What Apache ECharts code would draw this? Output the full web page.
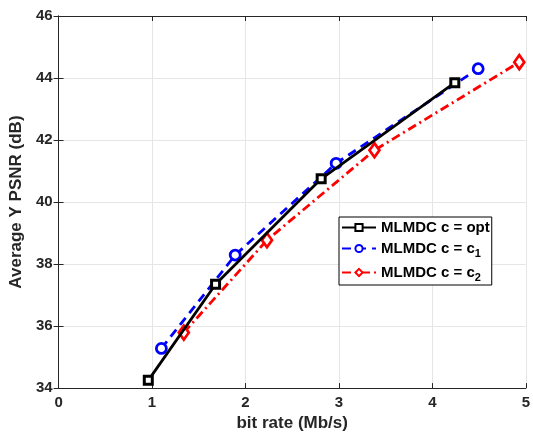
<!DOCTYPE html>
<html><head><meta charset="utf-8">
<script src="https://cdn.jsdelivr.net/npm/echarts@6/dist/echarts.min.js"></script>
<style>html,body{margin:0;padding:0;background:#fff}#c{width:533px;height:437px}</style>
</head><body><div id="c"></div>
<script>
const xTicks = [0, 1, 2, 3, 4, 5];
const yTicks = [34, 36, 38, 40, 42, 44, 46];
const seriesNames = ['MLMDC c = opt', 'MLMDC c = c1', 'MLMDC c = c2'];
const optRate = [0.96, 1.68, 2.81, 4.24];
const optPsnr = [34.25, 37.35, 40.75, 43.85];
const c1Rate = [1.10, 1.89, 2.97, 4.49];
const c1Psnr = [35.28, 38.29, 41.25, 44.30];
const c2Rate = [1.34, 2.23, 3.38, 4.93];
const c2Psnr = [35.79, 38.77, 41.67, 44.51];

const font = 'Liberation Sans, Arial, Helvetica, sans-serif';
const pair = (xs, ys) => xs.map((x, i) => [x, ys[i]]);
const chart = echarts.init(document.getElementById('c'));
const baseX = {type: 'value', min: 0, max: 5, interval: 1};
const baseY = {type: 'value', min: 34, max: 46, interval: 2};
chart.setOption({
  animation: false,
  backgroundColor: '#fff',
  grid: {left: 56, right: 2, top: 16, bottom: 45, containLabel: false},
  xAxis: [
    Object.assign({}, baseX, {
      position: 'bottom',
      name: 'bit rate (Mb/s)', nameLocation: 'middle', nameGap: 26,
      nameTextStyle: {fontFamily: font, fontWeight: 'bold', fontSize: 17, color: '#262626'},
      axisLine: {show: true, lineStyle: {color: '#262626', width: 1}},
      axisTick: {show: true, inside: true, length: 5, lineStyle: {color: '#262626'}},
      axisLabel: {fontFamily: font, fontWeight: 'bold', fontSize: 15, color: '#262626', margin: 7,
        formatter: v => xTicks.includes(v) ? String(v) : ''},
      splitLine: {show: true, lineStyle: {color: '#e6e6e6', width: 1}}
    }),
    Object.assign({}, baseX, {
      position: 'top',
      axisLine: {show: true, lineStyle: {color: '#262626', width: 1}},
      axisTick: {show: true, inside: true, length: 5, lineStyle: {color: '#262626'}},
      axisLabel: {show: false}, splitLine: {show: false}
    })
  ],
  yAxis: [
    Object.assign({}, baseY, {
      position: 'left',
      name: 'Average Y PSNR (dB)', nameLocation: 'middle', nameGap: 31,
      nameTextStyle: {fontFamily: font, fontWeight: 'bold', fontSize: 17, color: '#262626'},
      axisLine: {show: true, lineStyle: {color: '#262626', width: 1}},
      axisTick: {show: true, inside: true, length: 5, lineStyle: {color: '#262626'}},
      axisLabel: {fontFamily: font, fontWeight: 'bold', fontSize: 15, color: '#262626', margin: 6,
        formatter: v => yTicks.includes(v) ? String(v) : ''},
      splitLine: {show: true, lineStyle: {color: '#e6e6e6', width: 1}}
    }),
    Object.assign({}, baseY, {
      position: 'right',
      axisLine: {show: true, lineStyle: {color: '#262626', width: 1}},
      axisTick: {show: true, inside: true, length: 5, lineStyle: {color: '#262626'}},
      axisLabel: {show: false}, splitLine: {show: false}
    })
  ],
  legend: {
    orient: 'vertical', left: 339, top: 217,
    backgroundColor: '#fff', borderColor: '#000', borderWidth: 1,
    padding: [3, 2, 2, 2], itemGap: 6, itemWidth: 34, itemHeight: 9,
    textStyle: {fontFamily: font, fontWeight: 'bold', fontSize: 15, color: '#000',
      rich: {
        t: {fontFamily: font, fontWeight: 'bold', fontSize: 15, color: '#000'},
        s: {fontFamily: font, fontWeight: 'bold', fontSize: 11, color: '#000', padding: [10, 0, 0, 0]}
      }},
    formatter: n => {
      if (n === seriesNames[1]) return '{t|MLMDC c = c}{s|1}';
      if (n === seriesNames[2]) return '{t|MLMDC c = c}{s|2}';
      return '{t|' + n + '}';
    },
    data: seriesNames
  },
  series: [
    {name: seriesNames[0], type: 'line', data: pair(optRate, optPsnr),
      symbol: 'rect', symbolSize: 8,
      lineStyle: {color: '#000', width: 2.8, type: 'solid'},
      itemStyle: {color: '#fff', borderColor: '#000', borderWidth: 3}, z: 3},
    {name: seriesNames[1], type: 'line', data: pair(c1Rate, c1Psnr),
      symbol: 'circle', symbolSize: 10,
      lineStyle: {color: '#0000ff', width: 2.8, type: [9, 6]},
      itemStyle: {color: '#fff', borderColor: '#0000ff', borderWidth: 2.8}, z: 2},
    {name: seriesNames[2], type: 'line', data: pair(c2Rate, c2Psnr),
      symbol: 'diamond', symbolSize: [10, 14],
      lineStyle: {color: '#ff0000', width: 2.8, type: [9, 4, 2, 4]},
      itemStyle: {color: '#fff', borderColor: '#ff0000', borderWidth: 2.8}, z: 2}
  ]
});
</script></body></html>
